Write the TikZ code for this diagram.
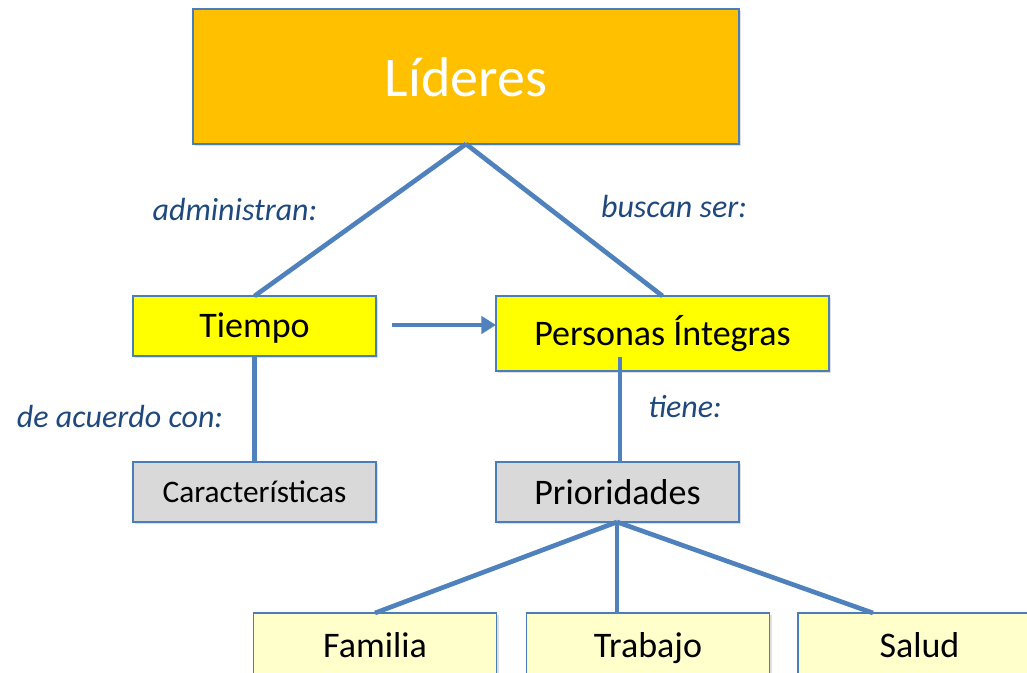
\documentclass[tikz,border=0pt]{standalone}
\usepackage{fontspec}
\setmainfont{Carlito}
\usetikzlibrary{arrows.meta, shadows}
\definecolor{linea}{HTML}{4F81BD}
\definecolor{borde}{HTML}{4A7EBB}
\definecolor{oro}{HTML}{FFC000}
\definecolor{amarillo}{HTML}{FFFF00}
\definecolor{crema}{HTML}{FFFFCC}
\definecolor{gris}{HTML}{D9D9D9}
\definecolor{etiq}{HTML}{1F497D}
\tikzset{ caja/.style = { rectangle
                        , draw = borde
                        , line width   = 1.1pt
                        , inner sep    = 0pt
                        , outer sep    = 0pt
                        , minimum width  = 182.25pt
                        , minimum height = 45pt
                        , text height  = 19pt
                        , text depth   = 1pt
                        , font = \fontsize{27}{32}\selectfont
                        , drop shadow = {shadow xshift=1.5pt, shadow yshift=-1.5pt, opacity=0.25}
                        },
          rel/.style = { font = \fontsize{24}{28}\selectfont\itshape
                       , text = etiq
                       },
          con/.style = { draw = linea
                       , line width = 3.5pt
                       }
        }
\begin{document}
\begin{tikzpicture}[x=0.75pt, y=-0.75pt]
    \useasboundingbox (0,0) rectangle (1027,673);
    % cajas
    \node[caja, fill=oro, text=white, minimum width=409.5pt, minimum height=101.25pt,
          text height=31pt, font=\fontsize{42}{48}\selectfont] (lid) at (466,76.5) {Líderes};
    \node[caja, fill=amarillo] (tie) at (254.5,326) {Tiempo};
    \node[caja, fill=amarillo, minimum width=249.75pt, minimum height=56.25pt] (per) at (662.5,333.5) {Personas Íntegras};
    \node[caja, fill=gris, text height=16pt, font=\fontsize{23.5}{28}\selectfont] (car) at (254.5,492) {Características};
    \node[caja, fill=gris] (pri) at (617.5,492) {Prioridades};
    \node[caja, fill=crema, minimum height=48pt] (fam) at (375,645) {Familia};
    \node[caja, fill=crema, minimum height=48pt] (tra) at (648,645) {Trabajo};
    \node[caja, fill=crema, minimum height=48pt] (sal) at (919.5,645) {Salud};
    % puntos libres
    \coordinate (fle) at (392,325);
    \coordinate (pst) at (620,357);
    \coordinate (pri-s) at (617,522);
    \coordinate (tra-n) at (617,613);
    \coordinate (sal-n) at (873,613);
    % conectores
    \path[con] (lid.south) -- (tie.north);
    \path[con] (lid.south) -- (per.north);
    \path[con, -{Triangle[length=11pt, width=13pt]}] (fle) -- (fle -| per.west);
    \path[con] (tie.south) -- (car.north);
    \path[con] (pst) -- (pst |- pri.north);
    \path[con] (pri-s) -- (fam.north);
    \path[con] (pri-s) -- (tra-n);
    \path[con] (pri-s) -- (sal-n);
    % etiquetas
    \node[rel] (l1) at (235,210) {administran:};
    \node[rel] (l2) at (674,207) {buscan ser:};
    \node[rel] (l3) at (120,417) {de acuerdo con:};
    \node[rel] (l4) at (685,407) {tiene:};
\end{tikzpicture}
\end{document}
